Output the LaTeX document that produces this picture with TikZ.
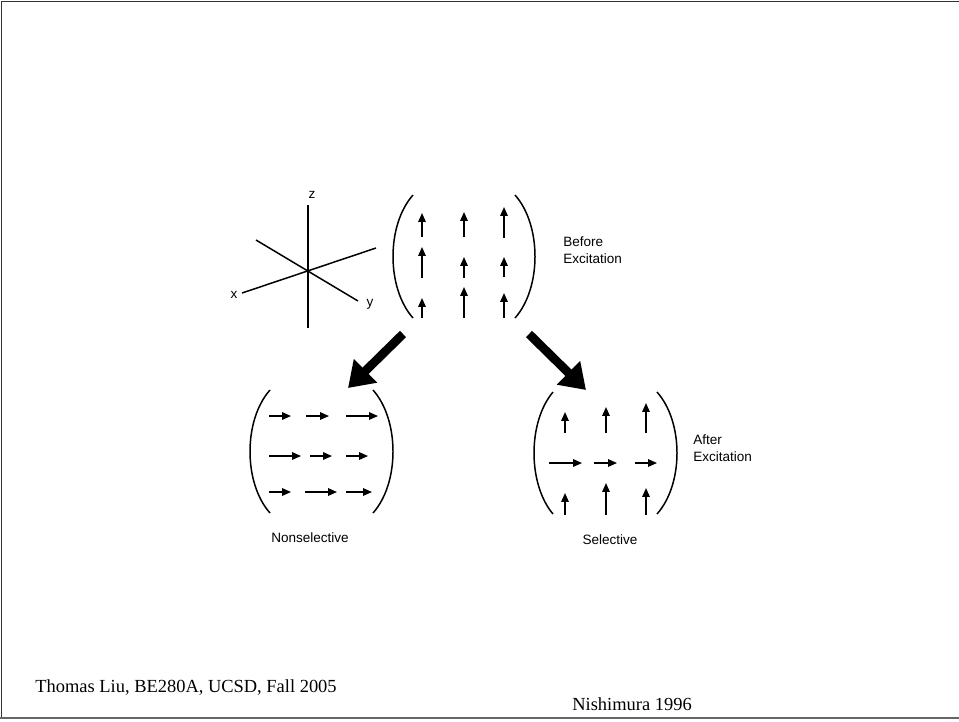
\documentclass[tikz,border=0pt]{standalone}
\usepackage{fontspec}
\setmainfont{Liberation Serif}
\newfontfamily\labelfont{Liberation Sans}
\usetikzlibrary{arrows.meta}
\tikzset{
  spin/.style={line width=0.85pt,-{Triangle[length=5pt,width=4.2pt]}},
  paren/.style={line width=0.85pt},
  axis/.style={line width=0.85pt},
  tip/.style={line width=5pt,-{Triangle[length=14pt,width=18pt]}},
  caption/.style={font=\labelfont\fontsize{7.7}{9.6}\selectfont,inner sep=0pt,align=left},
  footer/.style={font=\fontsize{10.5}{12}\selectfont,inner sep=0pt}
}
% left and right parenthesis: #1 end x, #2 bulge x, #3 top y, #4 bottom y
\newcommand\brackpair[6]{%
  \draw[paren] (#1,#5) .. controls ({#1+4/3*(#2-#1)},{#5+30}) and ({#1+4/3*(#2-#1)},{#6-30}) .. (#1,#6);
  \draw[paren] (#3,#5) .. controls ({#3+4/3*(#4-#3)},{#5+30}) and ({#3+4/3*(#4-#3)},{#6-30}) .. (#3,#6);
}
\begin{document}
\begin{tikzpicture}[x=0.02cm,y=-0.02cm]
\useasboundingbox (0,0) rectangle (959,721);
% frame
\draw[line width=0.6pt,black!80] (959,1.5) -- (1.5,1.5) -- (1.5,718);
\draw[line width=1.2pt,black!60] (0,718) -- (959,718);

% axes
\coordinate (o) at (308,270);
\draw[axis] (308,205) -- (308,328);
\draw[axis] (256,240) -- (358,301);
\draw[axis] (242,293) -- (376,248);
\node[caption] (zlab) at (312,195) {z};
\node[caption] (ylab) at (370,304) {y};
\node[caption] (xlab) at (234,295) {x};

% matrices
\brackpair{413}{393}{515}{535}{195}{318}
\brackpair{270}{250}{373}{393}{390}{513}
\brackpair{553}{534}{657}{677}{392}{514}

% before excitation
\foreach \x/\a/\b in {422/237/213,464/237/212,504/238/207,
                      422/278/247,464/278/257,504/277/257,
                      422/318/298,464/318/287,504/318/293}
  \draw[spin] (\x,\a) -- (\x,\b);
\node[caption,anchor=west] (before) at (563,250) {Before\\Excitation};

% nonselective
\foreach \y/\a/\b in {416/269/291,416/306/329,416/346/378,
                      456/269/301,456/310/332,456/346/368,
                      492/269/291,492/305/337,492/346/372}
  \draw[spin] (\a,\y) -- (\b,\y);
\node[caption] (nonsel) at (310,538) {Nonselective};

% selective
\foreach \x/\a/\b in {565/433/412,606/433/407,646/433/403,
                      565/515/493,606/515/483,646/515/488}
  \draw[spin] (\x,\a) -- (\x,\b);
\foreach \y/\a/\b in {463/549/582,463/594/617,463/635/657}
  \draw[spin] (\a,\y) -- (\b,\y);
\node[caption,anchor=west] (after) at (693,448) {After\\Excitation};
\node[caption] (sel) at (610,540) {Selective};

% excitation arrows
\coordinate (ltail) at (403,334);
\coordinate (lhead) at (348,388);
\coordinate (rtail) at (529,334);
\coordinate (rhead) at (586,390);
\draw[tip] (ltail) -- (lhead);
\draw[tip] (rtail) -- (rhead);

% footer
\node[footer,anchor=base west] (credit) at (35,692) {Thomas Liu, BE280A, UCSD, Fall 2005};
\node[footer,anchor=base west] (source) at (572,710) {Nishimura 1996};
\end{tikzpicture}
\end{document}
